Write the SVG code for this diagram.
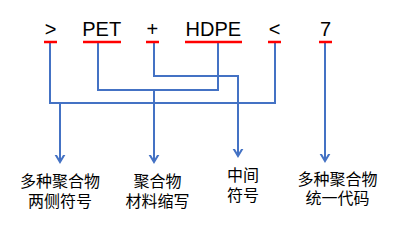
<svg xmlns="http://www.w3.org/2000/svg" width="405" height="234" viewBox="0 0 405 234">
<defs>
<style>
.sym{font-family:"Liberation Sans",Arial,sans-serif;font-size:20px;fill:#000;text-anchor:middle}
.ul{stroke:#FF0000;stroke-width:2.5;fill:none}
.cn{stroke:#4472C4;stroke-width:2;fill:none}
.lb{font-family:"Noto Sans CJK SC",sans-serif;font-size:16px;fill:#000;text-anchor:middle}
</style>
<marker id="arr" markerUnits="userSpaceOnUse" viewBox="-7 -7 14 14" markerWidth="14" markerHeight="14" refX="0" refY="0" orient="auto">
<polyline points="-10,-6 0,0 -10,6" fill="none" stroke="#4472C4" stroke-width="2"/>
</marker>
</defs>
<rect width="405" height="234" fill="#fff"/>
<g id="connectors">
<path class="cn" d="M50,42 V103 H275 V42"/>
<path class="cn" d="M60,103 V162" marker-end="url(#arr)"/>
<path class="cn" d="M98,42 V90 H218 V42"/>
<path class="cn" d="M154,90 V162" marker-end="url(#arr)"/>
<path class="cn" d="M154,42 V76 H238 V156" marker-end="url(#arr)"/>
<path class="cn" d="M325,42 V161" marker-end="url(#arr)"/>
</g>
<g id="sym-gt"><text class="sym" x="50.5" y="36">&gt;</text><line class="ul" x1="44" y1="42" x2="57" y2="42"/></g>
<g id="sym-pet"><text class="sym" x="101.7" y="36">PET</text><line class="ul" x1="83" y1="42" x2="121" y2="42"/></g>
<g id="sym-plus"><text class="sym" x="152.3" y="36">+</text><line class="ul" x1="146" y1="42" x2="159" y2="42"/></g>
<g id="sym-hdpe"><text class="sym" x="213.3" y="36">HDPE</text><line class="ul" x1="185" y1="42" x2="242" y2="42"/></g>
<g id="sym-lt"><text class="sym" x="274.5" y="36">&lt;</text><line class="ul" x1="268" y1="42" x2="281" y2="42"/></g>
<g id="sym-7"><text class="sym" x="325.5" y="36">7</text><line class="ul" x1="319" y1="42" x2="332" y2="42"/></g>
<g id="label-1"><text class="lb" x="60" y="187">多种聚合物</text><text class="lb" x="60" y="207">两侧符号</text></g>
<g id="label-2"><text class="lb" x="157.5" y="187">聚合物</text><text class="lb" x="157.5" y="207">材料缩写</text></g>
<g id="label-3"><text class="lb" x="243" y="181">中间</text><text class="lb" x="243" y="201">符号</text></g>
<g id="label-4"><text class="lb" x="337.5" y="185">多种聚合物</text><text class="lb" x="337.5" y="204">统一代码</text></g>
</svg>
